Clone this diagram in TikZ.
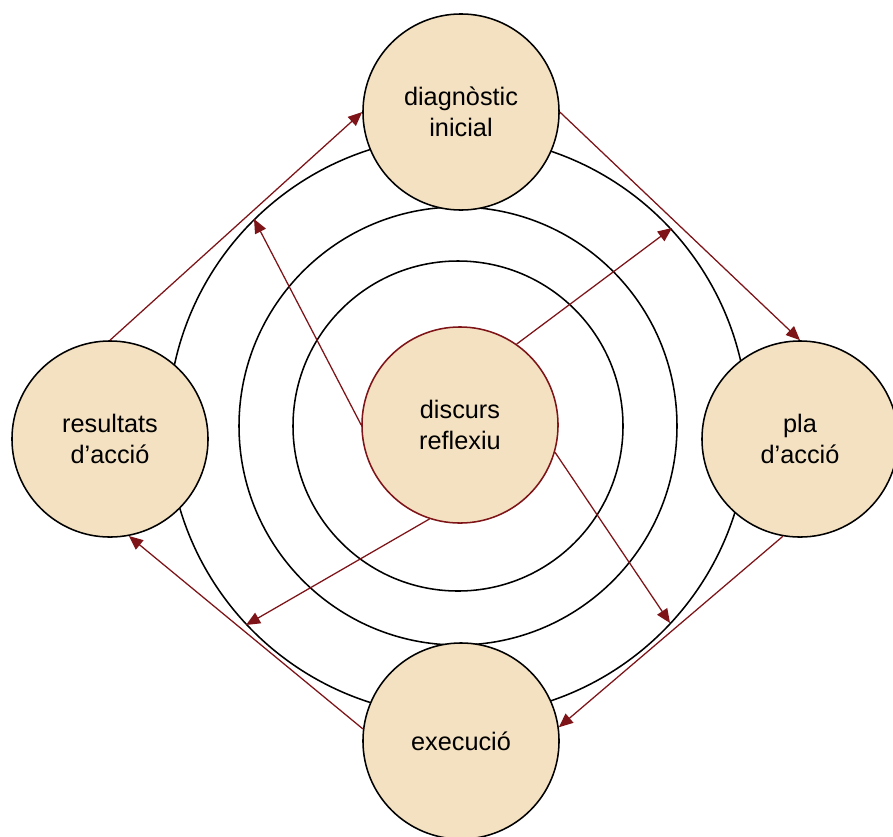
\documentclass[tikz,border=0pt]{standalone}
\usepackage{fontspec}
\setmainfont{Liberation Sans}
\usetikzlibrary{arrows.meta}
\definecolor{nodefill}{RGB}{244,225,193}
\definecolor{arrowred}{RGB}{126,20,24}
\tikzset{
  stagenode/.style={circle, draw=black, line width=1.1pt, fill=nodefill,
    minimum size=4.9cm, inner sep=0pt, align=center,
    font=\fontsize{18pt}{22.4pt}\selectfont},
  corenode/.style={stagenode, draw=arrowred},
  ring/.style={draw=black, line width=1.1pt},
  flow/.style={draw=arrowred, line width=0.9pt, -{Triangle[length=10pt,width=8.5pt]}}
}
\begin{document}
\begin{tikzpicture}[x=0.025cm, y=-0.025cm]
\useasboundingbox (0,0) rectangle (893,836);
\coordinate (o) at (458,426);
\draw[ring] (o) circle[radius=165*0.025cm];
\draw[ring] (o) circle[radius=219*0.025cm];
\draw[ring] (o) circle[radius=290*0.025cm];

\node[stagenode] (top) at (461,112) {diagnòstic\\inicial};
\node[stagenode] (left) at (110,439) {resultats\\d’acció};
\node[stagenode] (right) at (800,439) {pla\\d’acció};
\node[stagenode] (bottom) at (461,741) {execució};
\node[corenode] (c) at (460,425) {discurs\\reflexiu};

\coordinate (e1) at (672,228);
\coordinate (e2) at (254,219);
\coordinate (e3) at (246,625);
\coordinate (e4) at (670,623);

\draw[flow] (left.north) -- (top.west);
\draw[flow] (top.east) -- (right.north);
\draw[flow] (right.260) -- (bottom.8);
\draw[flow] (bottom.173) -- (left.281);

\draw[flow] (c.55) -- (e1);
\draw[flow] (c.west) -- (e2);
\draw[flow] (c.252) -- (e3);
\draw[flow] (c.344) -- (e4);
\end{tikzpicture}
\end{document}
